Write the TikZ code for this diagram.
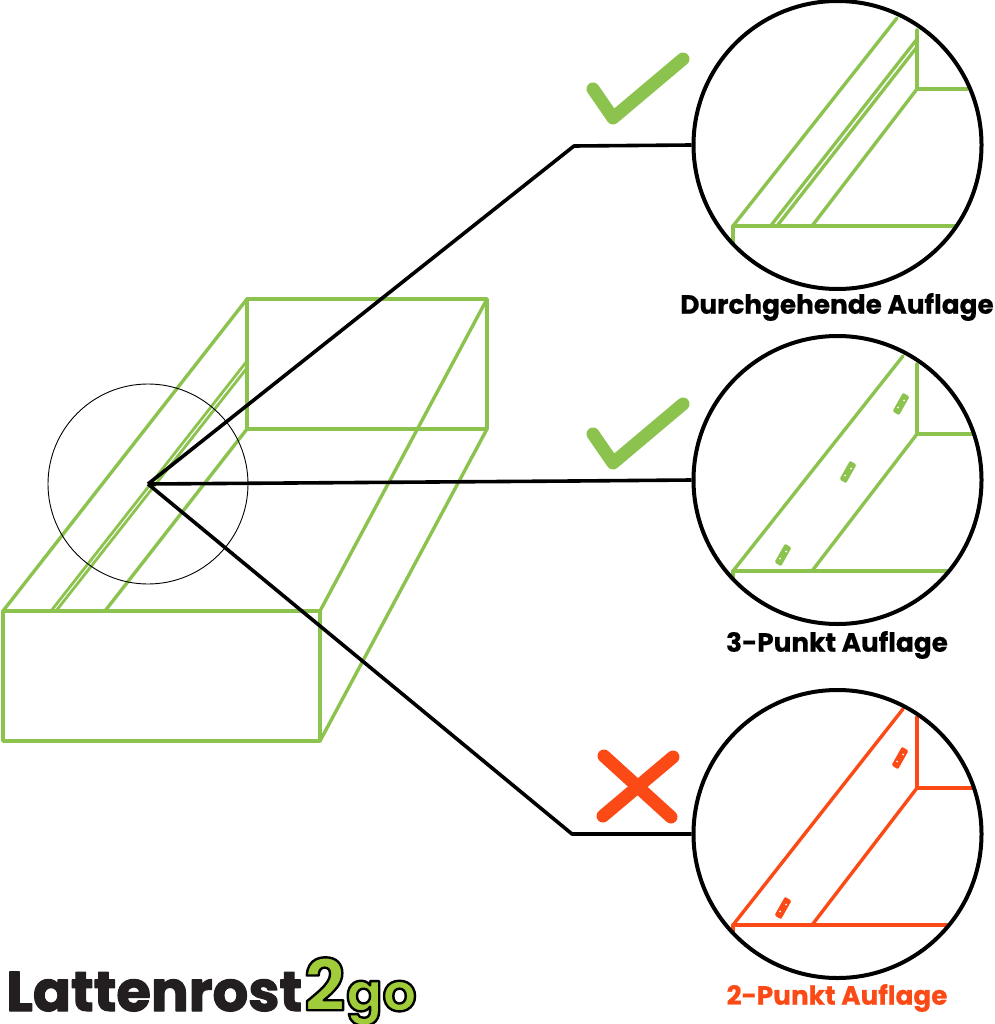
\documentclass[tikz,border=0pt]{standalone}
\usepackage{fontspec}
\setmainfont{Poppins}
\newfontfamily\labelfont[FakeBold=0.6]{Poppins}
\newfontfamily\logofont[FakeBold=2]{Poppins}
\newfontfamily\logotwofont{Poppins}
\usepackage{xcolor}
\usetikzlibrary{positioning}
\definecolor{railgreen}{HTML}{8CC34F}
\definecolor{logogreen}{HTML}{A0CC3A}
\definecolor{warnred}{HTML}{FB4A16}
\definecolor{logoblack}{HTML}{231F20}
\newcommand{\outlined}[1]{\special{pdf:code 2 Tr 1 j 2.4 w 0 0 0 RG}#1\special{pdf:code 0 Tr}}
\tikzset{
    lens/.style={circle,draw=black,line width=4pt,minimum size=288pt,inner sep=0pt},
    leader/.style={draw=black,line width=3.6pt,line join=round},
    frame/.style={line width=3.4pt,line join=round,line cap=round},
    railpart/.style={line width=3.3pt},
    slothole/.style={line width=3pt,line join=round},
    signstroke/.style={line width=13pt,line cap=round,line join=round},
    caption/.style={font=\labelfont\bfseries\fontsize{26.3}{28}\selectfont,inner sep=0pt},
    logotext/.style={anchor=base west,inner sep=0pt}
}
\begin{document}
\begin{tikzpicture}[x=1pt,y=-1pt]
    \useasboundingbox (0,0) rectangle (994,1024);

    % box
    \draw[frame,draw=railgreen] (3,611) rectangle (320,741);
    \draw[frame,draw=railgreen] (247,299) rectangle (487,429);
    \draw[frame,draw=railgreen] (3,611) -- (247,299);
    \draw[frame,draw=railgreen] (320,611) -- (487,299);
    \draw[frame,draw=railgreen] (320,741) -- (487,429);
    \draw[frame,draw=railgreen] (247,429) -- (417,429);
    \draw[frame,draw=railgreen] (247,429) -- (105,611);
    \draw[railpart,line width=2.8pt,draw=railgreen] (51,611) -- (247,361);
    \draw[railpart,line width=2.8pt,draw=railgreen] (56,611) -- (247,368);

    % continuous support
    \draw[frame,draw=railgreen] (733,243) -- (733,226) -- (955,226);
    \draw[frame,draw=railgreen] (733,226) -- (897,18);
    \draw[frame,draw=railgreen] (917,30) -- (917,89) -- (967,89);
    \draw[frame,draw=railgreen] (917,89) -- (812,226);
    \draw[railpart,draw=railgreen] (770.5,226) -- (917,39);
    \draw[railpart,draw=railgreen] (777,226) -- (917,47);

    % three point support
    \draw[frame,draw=railgreen] (733,577) -- (733,571) -- (947,571);
    \draw[frame,draw=railgreen] (733,571) -- (903,356);
    \draw[frame,draw=railgreen] (917,364) -- (917,434) -- (972,434);
    \draw[frame,draw=railgreen] (917,434) -- (812,571);
    \foreach \x/\y in {901/404,848/472,783/555} {
        \filldraw[slothole,draw=railgreen,fill=railgreen] (\x+6.5,\y-6.8) -- (\x+2.5,\y-9.2) -- (\x-6.5,\y+6.8) -- (\x-2.5,\y+9.2) -- cycle;
        \fill[white] (\x-3,\y+3.5) circle (1pt) (\x+3,\y-3.5) circle (1pt);
    }

    % two point support
    \draw[frame,draw=warnred] (733,932) -- (733,925) -- (947,925);
    \draw[frame,draw=warnred] (733,925) -- (903,709);
    \draw[frame,draw=warnred] (917,717) -- (917,788) -- (972,788);
    \draw[frame,draw=warnred] (917,788) -- (812,925);
    \foreach \x/\y in {900/758,783/908} {
        \filldraw[slothole,draw=warnred,fill=warnred] (\x+6.5,\y-6.8) -- (\x+2.5,\y-9.2) -- (\x-6.5,\y+6.8) -- (\x-2.5,\y+9.2) -- cycle;
        \fill[white] (\x-3,\y+3.5) circle (1pt) (\x+3,\y-3.5) circle (1pt);
    }

    % lenses
    \node[lens] (fullview) at (837.5,145) {};
    \node[lens] (threeview) at (837.5,480) {};
    \node[lens] (twoview) at (837.5,834) {};
    \node[circle,draw=black,line width=0.9pt,minimum size=200pt,inner sep=0pt] (spot) at (148,484) {};

    % leaders
    \coordinate (fullbend) at (574,146);
    \coordinate (threebend) at (574,481);
    \coordinate (twobend) at (572,834);
    \draw[leader] (spot.center) -- (fullbend) -- (fullview.west);
    \draw[leader] (spot.center) -- (threebend) -- (threeview.west);
    \draw[leader] (spot.center) -- (twobend) -- (twoview.west);

    % ticks and cross
    \foreach \y in {0,345} {
        \draw[signstroke,draw=railgreen] (593,89+\y) -- (613,118+\y) -- (683,59+\y);
    }
    \draw[signstroke,draw=warnred] (604,756) -- (671,817);
    \draw[signstroke,draw=warnred] (673,757) -- (603,816);

    % captions
    \node[caption] (fulltext) at (837,307) {Durchgehende Auflage};
    \node[caption] (threetext) at (837,645) {3-Punkt Auflage};
    \node[caption,text=warnred] (twotext) at (837,998) {2-Punkt Auflage};

    % logo
    \node[logotext,font=\logofont\bfseries\fontsize{56}{58}\selectfont,text=logoblack] (logoname) at (6,1011) {\special{pdf:code 1 j}Lattenrost};
    \node[logotext,font=\logotwofont\bfseries\fontsize{72}{74}\selectfont,text=logogreen] (logotwo) at (304,1011) {\outlined{2}};
    \node[logotext,font=\logotwofont\bfseries\fontsize{53.5}{55}\selectfont,text=logogreen] (logogo) at (346,1011) {\outlined{go}};
\end{tikzpicture}
\end{document}
